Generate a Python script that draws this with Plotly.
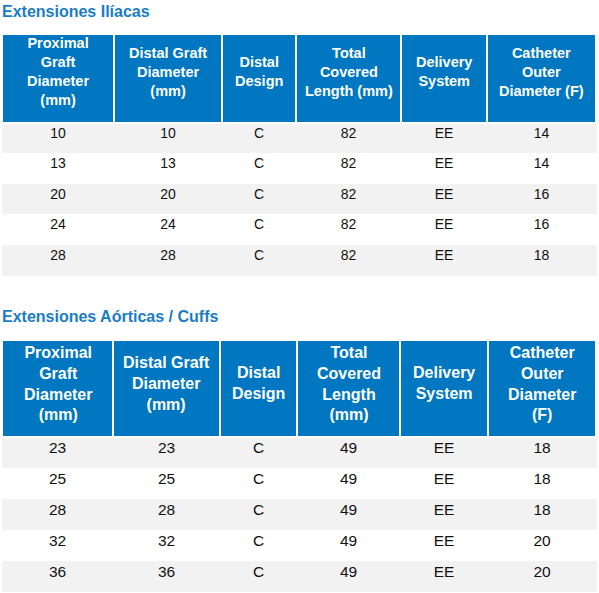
import plotly.graph_objects as go

# Extensiones Ilíacas
iliac_proximal = [10, 13, 20, 24, 28]
iliac_distal = [10, 13, 20, 24, 28]
iliac_design = ["C", "C", "C", "C", "C"]
iliac_length = [82, 82, 82, 82, 82]
iliac_system = ["EE", "EE", "EE", "EE", "EE"]
iliac_catheter = [14, 14, 16, 16, 18]
iliac_headers = ["Proximal<br>Graft<br>Diameter<br>(mm)", "Distal Graft<br>Diameter<br>(mm)",
                 "Distal<br>Design", "Total<br>Covered<br>Length (mm)",
                 "Delivery<br>System", "Catheter<br>Outer<br>Diameter (F)"]

# Extensiones Aórticas / Cuffs
cuff_proximal = [23, 25, 28, 32, 36]
cuff_distal = [23, 25, 28, 32, 36]
cuff_design = ["C", "C", "C", "C", "C"]
cuff_length = [49, 49, 49, 49, 49]
cuff_system = ["EE", "EE", "EE", "EE", "EE"]
cuff_catheter = [18, 18, 18, 20, 20]
cuff_headers = ["Proximal<br>Graft<br>Diameter<br>(mm)", "Distal Graft<br>Diameter<br>(mm)",
                "Distal<br>Design", "Total<br>Covered<br>Length<br>(mm)",
                "Delivery<br>System", "Catheter<br>Outer<br>Diameter<br>(F)"]

W, H = 599, 593
X0, X1 = 2, 596
TEXT_LIFT = 4  # plotly puts cell text lower than the original, lift it a bit
BLUE = "#0077c0"
TITLE_BLUE = "#1a7dc4"
FONT = "Liberation Sans, Arial, sans-serif"
row_colors = ["#f2f2f2", "#ffffff", "#f2f2f2", "#ffffff", "#f2f2f2"]
CLEAR = "rgba(0,0,0,0)"

fig = go.Figure()


def add_table(title, title_y, headers, cols, widths, top, bottom, head_h, cell_h,
              size, head_size, head_mid):
    fills = [row_colors] * len(cols)
    # backgrounds
    fig.add_trace(go.Table(
        domain=dict(x=[X0 / W, X1 / W], y=[1 - bottom / H, 1 - top / H]),
        columnwidth=widths,
        header=dict(values=[""] * len(headers),
                    fill_color=BLUE, line=dict(color="white", width=1.5),
                    height=head_h),
        cells=dict(values=[[""] * len(c) for c in cols], fill_color=fills,
                   line=dict(color=fills, width=1), height=cell_h),
    ))
    # cell values
    fig.add_trace(go.Table(
        domain=dict(x=[X0 / W, X1 / W], y=[1 - bottom / H, 1 - (top - TEXT_LIFT) / H]),
        columnwidth=widths,
        header=dict(values=[""] * len(headers), fill_color=CLEAR,
                    line=dict(color=CLEAR, width=0), height=head_h),
        cells=dict(values=cols, fill_color=CLEAR, line=dict(color=CLEAR, width=0),
                   align="center", height=cell_h,
                   font=dict(family=FONT, size=size, color="#111111")),
    ))
    # header labels, centred line by line inside each column
    scale = (X1 - X0) / sum(widths)
    left = X0
    for h, w in zip(headers, widths):
        cx = left + w * scale / 2
        left += w * scale
        fig.add_annotation(text=f"<b>{h}</b>", xref="paper", yref="paper",
                           x=cx / W, y=1 - head_mid / H, xanchor="center",
                           yanchor="middle", align="center", showarrow=False,
                           font=dict(family=FONT, size=head_size, color="white"))
    fig.add_annotation(text=f"<b>{title}</b>", xref="paper", yref="paper",
                       x=0, y=1 - title_y / H, xanchor="left", yanchor="middle",
                       showarrow=False, font=dict(family=FONT, size=16, color=TITLE_BLUE))


add_table("Extensiones Ilíacas", 12, iliac_headers,
          [iliac_proximal, iliac_distal, iliac_design, iliac_length, iliac_system, iliac_catheter],
          [112, 108, 74, 105, 86, 109], 34, 278, 89, 30.6, 14, 14.5, 72)
add_table("Extensiones Aórticas / Cuffs", 317, cuff_headers,
          [cuff_proximal, cuff_distal, cuff_design, cuff_length, cuff_system, cuff_catheter],
          [111, 107, 77, 103, 88, 108], 340, 593, 97, 31.1, 15.5, 16, 383)

fig.update_layout(width=W, height=H, margin=dict(l=0, r=0, t=0, b=0),
                  paper_bgcolor="white", plot_bgcolor="white")
fig.write_html("out.html", config={"displayModeBar": False},
               post_script="document.body.style.margin='0';")
